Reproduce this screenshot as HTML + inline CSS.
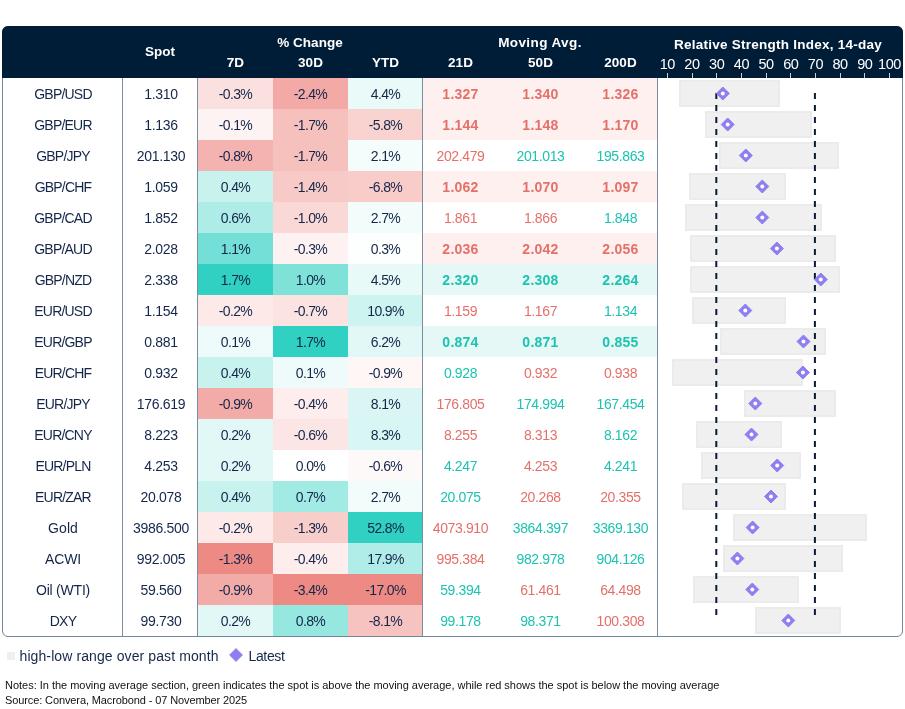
<!DOCTYPE html>
<html lang="en"><head><meta charset="utf-8"><title>FX table</title>
<style>
html,body{margin:0;padding:0;background:#fff;}
body{width:905px;height:709px;position:relative;overflow:hidden;font-family:"Liberation Sans",sans-serif;}
.tbl{position:absolute;left:2px;top:26px;width:901px;height:611px;box-sizing:border-box;border:1px solid #73869b;border-radius:6px;overflow:hidden;background:#fff;}
.hd{position:absolute;left:2px;top:26px;width:901px;height:52px;background:#001d38;border-radius:6px 6px 0 0;z-index:2;}
.h{position:absolute;color:#fff;font-weight:bold;font-size:13.5px;line-height:16px;height:16px;text-align:center;white-space:nowrap;letter-spacing:0.05px;}
.ax{position:absolute;color:#fff;font-size:14.5px;line-height:16px;height:16px;width:40px;text-align:center;letter-spacing:-0.4px;top:30px;}
.tk{position:absolute;top:47px;width:1px;height:5px;background:#c9d0d8;}
.c{position:absolute;height:31px;line-height:33px;overflow:hidden;font-size:14px;text-align:center;color:#14274a;white-space:nowrap;letter-spacing:-0.65px;}
.m{letter-spacing:-0.38px;}
.s{letter-spacing:-0.3px;}
.n{letter-spacing:-0.8px;}
.r{color:#e5706a;} .g{color:#1cc3b1;} .b{font-weight:bold;letter-spacing:0.25px;}
.vl{position:absolute;top:51px;width:1px;height:560px;background:#7c8da0;}
.bar{position:absolute;height:26.5px;background:#f0f0f0;box-sizing:border-box;border:2px solid #ebebeb;}
svg{position:absolute;left:0;top:0;}
.lg{position:absolute;font-size:14px;color:#14274a;line-height:16px;white-space:nowrap;letter-spacing:-0.35px;}
.nt{position:absolute;left:5px;font-size:11px;color:#111;line-height:15px;white-space:nowrap;letter-spacing:-0.3px;}
</style></head><body>
<div class="hd">
<div class="h" style="left:121px;width:74px;top:18px">Spot</div>
<div class="h" style="left:233px;width:150px;top:9px">% Change</div>
<div class="h" style="left:196px;width:75px;top:28.5px">7D</div>
<div class="h" style="left:271px;width:75px;top:28.5px">30D</div>
<div class="h" style="left:346px;width:75px;top:28.5px">YTD</div>
<div class="h" style="left:463px;width:150px;top:9px;letter-spacing:0.4px">Moving Avg.</div>
<div class="h" style="left:418.5px;width:80px;top:28.5px">21D</div>
<div class="h" style="left:498.5px;width:80px;top:28.5px">50D</div>
<div class="h" style="left:578.5px;width:80px;top:28.5px">200D</div>
<div class="h" style="left:656px;width:240px;top:11px;letter-spacing:0.25px">Relative Strength Index, 14-day</div>
<div class="ax" style="left:645.3px">10</div><div class="tk" style="left:664.8px"></div>
<div class="ax" style="left:670.0px">20</div><div class="tk" style="left:689.5px"></div>
<div class="ax" style="left:694.7px">30</div><div class="tk" style="left:714.2px"></div>
<div class="ax" style="left:719.4px">40</div><div class="tk" style="left:738.9px"></div>
<div class="ax" style="left:744.1px">50</div><div class="tk" style="left:763.6px"></div>
<div class="ax" style="left:768.8px">60</div><div class="tk" style="left:788.2px"></div>
<div class="ax" style="left:793.4px">70</div><div class="tk" style="left:812.9px"></div>
<div class="ax" style="left:818.1px">80</div><div class="tk" style="left:837.6px"></div>
<div class="ax" style="left:842.8px">90</div><div class="tk" style="left:862.3px"></div>
<div class="ax" style="left:867.5px">100</div><div class="tk" style="left:887.0px"></div>
</div>
<div class="tbl">
<div class="c n" style="left:0;width:120px;top:51px">GBP/USD</div><div class="c s" style="left:121px;width:74px;top:51px">1.310</div><div class="c" style="left:195px;width:75px;top:51px;background:#fae0de">-0.3%</div><div class="c" style="left:270px;width:75px;top:51px;background:#f3a9a5">-2.4%</div><div class="c" style="left:345px;width:75px;top:51px;background:#e9faf8">4.4%</div><div style="position:absolute;left:420px;width:235px;top:51px;height:31px;background:#fdf0ee"></div><div class="c m r b" style="left:417.5px;width:80px;top:51px">1.327</div><div class="c m r b" style="left:497.5px;width:80px;top:51px">1.340</div><div class="c m r b" style="left:577.5px;width:80px;top:51px">1.326</div><div class="bar" style="left:675.9px;width:101.0px;top:53.25px"></div>
<div class="c n" style="left:0;width:120px;top:82px">GBP/EUR</div><div class="c s" style="left:121px;width:74px;top:82px">1.136</div><div class="c" style="left:195px;width:75px;top:82px;background:#fdf3f3">-0.1%</div><div class="c" style="left:270px;width:75px;top:82px;background:#f6c0bd">-1.7%</div><div class="c" style="left:345px;width:75px;top:82px;background:#f9d3d0">-5.8%</div><div style="position:absolute;left:420px;width:235px;top:82px;height:31px;background:#fdf0ee"></div><div class="c m r b" style="left:417.5px;width:80px;top:82px">1.144</div><div class="c m r b" style="left:497.5px;width:80px;top:82px">1.148</div><div class="c m r b" style="left:577.5px;width:80px;top:82px">1.170</div><div class="bar" style="left:702.2px;width:106.4px;top:84.25px"></div>
<div class="c n" style="left:0;width:120px;top:113px">GBP/JPY</div><div class="c s" style="left:121px;width:74px;top:113px">201.130</div><div class="c" style="left:195px;width:75px;top:113px;background:#f4b3b0">-0.8%</div><div class="c" style="left:270px;width:75px;top:113px;background:#f6c0bd">-1.7%</div><div class="c" style="left:345px;width:75px;top:113px;background:#f4fcfc">2.1%</div><div class="c m r" style="left:417.5px;width:80px;top:113px">202.479</div><div class="c m g" style="left:497.5px;width:80px;top:113px">201.013</div><div class="c m g" style="left:577.5px;width:80px;top:113px">195.863</div><div class="bar" style="left:716.3px;width:119.4px;top:115.25px"></div>
<div class="c n" style="left:0;width:120px;top:144px">GBP/CHF</div><div class="c s" style="left:121px;width:74px;top:144px">1.059</div><div class="c" style="left:195px;width:75px;top:144px;background:#c7f2ee">0.4%</div><div class="c" style="left:270px;width:75px;top:144px;background:#f7cac8">-1.4%</div><div class="c" style="left:345px;width:75px;top:144px;background:#f8ccc9">-6.8%</div><div style="position:absolute;left:420px;width:235px;top:144px;height:31px;background:#fdf0ee"></div><div class="c m r b" style="left:417.5px;width:80px;top:144px">1.062</div><div class="c m r b" style="left:497.5px;width:80px;top:144px">1.070</div><div class="c m r b" style="left:577.5px;width:80px;top:144px">1.097</div><div class="bar" style="left:686.2px;width:96.4px;top:146.25px"></div>
<div class="c n" style="left:0;width:120px;top:175px">GBP/CAD</div><div class="c s" style="left:121px;width:74px;top:175px">1.852</div><div class="c" style="left:195px;width:75px;top:175px;background:#aeede7">0.6%</div><div class="c" style="left:270px;width:75px;top:175px;background:#f9d8d6">-1.0%</div><div class="c" style="left:345px;width:75px;top:175px;background:#f1fcfb">2.7%</div><div class="c m r" style="left:417.5px;width:80px;top:175px">1.861</div><div class="c m r" style="left:497.5px;width:80px;top:175px">1.866</div><div class="c m g" style="left:577.5px;width:80px;top:175px">1.848</div><div class="bar" style="left:682.2px;width:136.4px;top:177.25px"></div>
<div class="c n" style="left:0;width:120px;top:206px">GBP/AUD</div><div class="c s" style="left:121px;width:74px;top:206px">2.028</div><div class="c" style="left:195px;width:75px;top:206px;background:#73dfd6">1.1%</div><div class="c" style="left:270px;width:75px;top:206px;background:#fdf2f1">-0.3%</div><div class="c" style="left:345px;width:75px;top:206px;background:#fdfffe">0.3%</div><div style="position:absolute;left:420px;width:235px;top:206px;height:31px;background:#fdf0ee"></div><div class="c m r b" style="left:417.5px;width:80px;top:206px">2.036</div><div class="c m r b" style="left:497.5px;width:80px;top:206px">2.042</div><div class="c m r b" style="left:577.5px;width:80px;top:206px">2.056</div><div class="bar" style="left:687.0px;width:146.2px;top:208.25px"></div>
<div class="c n" style="left:0;width:120px;top:237px">GBP/NZD</div><div class="c s" style="left:121px;width:74px;top:237px">2.338</div><div class="c" style="left:195px;width:75px;top:237px;background:#30d0c2">1.7%</div><div class="c" style="left:270px;width:75px;top:237px;background:#7fe2d9">1.0%</div><div class="c" style="left:345px;width:75px;top:237px;background:#e8faf8">4.5%</div><div style="position:absolute;left:420px;width:235px;top:237px;height:31px;background:#e6f8f5"></div><div class="c m g b" style="left:417.5px;width:80px;top:237px">2.320</div><div class="c m g b" style="left:497.5px;width:80px;top:237px">2.308</div><div class="c m g b" style="left:577.5px;width:80px;top:237px">2.264</div><div class="bar" style="left:687.0px;width:149.8px;top:239.25px"></div>
<div class="c n" style="left:0;width:120px;top:268px">EUR/USD</div><div class="c s" style="left:121px;width:74px;top:268px">1.154</div><div class="c" style="left:195px;width:75px;top:268px;background:#fce9e8">-0.2%</div><div class="c" style="left:270px;width:75px;top:268px;background:#fbe3e1">-0.7%</div><div class="c" style="left:345px;width:75px;top:268px;background:#cdf4f0">10.9%</div><div class="c m r" style="left:417.5px;width:80px;top:268px">1.159</div><div class="c m r" style="left:497.5px;width:80px;top:268px">1.167</div><div class="c m g" style="left:577.5px;width:80px;top:268px">1.134</div><div class="bar" style="left:688.7px;width:94.5px;top:270.25px"></div>
<div class="c n" style="left:0;width:120px;top:299px">EUR/GBP</div><div class="c s" style="left:121px;width:74px;top:299px">0.881</div><div class="c" style="left:195px;width:75px;top:299px;background:#effbfa">0.1%</div><div class="c" style="left:270px;width:75px;top:299px;background:#30d0c2">1.7%</div><div class="c" style="left:345px;width:75px;top:299px;background:#e1f8f6">6.2%</div><div style="position:absolute;left:420px;width:235px;top:299px;height:31px;background:#e6f8f5"></div><div class="c m g b" style="left:417.5px;width:80px;top:299px">0.874</div><div class="c m g b" style="left:497.5px;width:80px;top:299px">0.871</div><div class="c m g b" style="left:577.5px;width:80px;top:299px">0.855</div><div class="bar" style="left:716.8px;width:106.7px;top:301.25px"></div>
<div class="c n" style="left:0;width:120px;top:330px">EUR/CHF</div><div class="c s" style="left:121px;width:74px;top:330px">0.932</div><div class="c" style="left:195px;width:75px;top:330px;background:#c7f2ee">0.4%</div><div class="c" style="left:270px;width:75px;top:330px;background:#effbfa">0.1%</div><div class="c" style="left:345px;width:75px;top:330px;background:#fef7f6">-0.9%</div><div class="c m g" style="left:417.5px;width:80px;top:330px">0.928</div><div class="c m r" style="left:497.5px;width:80px;top:330px">0.932</div><div class="c m r" style="left:577.5px;width:80px;top:330px">0.938</div><div class="bar" style="left:669.2px;width:131.0px;top:332.25px"></div>
<div class="c n" style="left:0;width:120px;top:361px">EUR/JPY</div><div class="c s" style="left:121px;width:74px;top:361px">176.619</div><div class="c" style="left:195px;width:75px;top:361px;background:#f3aba7">-0.9%</div><div class="c" style="left:270px;width:75px;top:361px;background:#fdeeed">-0.4%</div><div class="c" style="left:345px;width:75px;top:361px;background:#d9f6f4">8.1%</div><div class="c m r" style="left:417.5px;width:80px;top:361px">176.805</div><div class="c m g" style="left:497.5px;width:80px;top:361px">174.994</div><div class="c m g" style="left:577.5px;width:80px;top:361px">167.454</div><div class="bar" style="left:741.2px;width:91.8px;top:363.25px"></div>
<div class="c n" style="left:0;width:120px;top:392px">EUR/CNY</div><div class="c s" style="left:121px;width:74px;top:392px">8.223</div><div class="c" style="left:195px;width:75px;top:392px;background:#e1f8f6">0.2%</div><div class="c" style="left:270px;width:75px;top:392px;background:#fbe6e5">-0.6%</div><div class="c" style="left:345px;width:75px;top:392px;background:#d8f6f3">8.3%</div><div class="c m r" style="left:417.5px;width:80px;top:392px">8.255</div><div class="c m r" style="left:497.5px;width:80px;top:392px">8.313</div><div class="c m g" style="left:577.5px;width:80px;top:392px">8.162</div><div class="bar" style="left:693.0px;width:85.5px;top:394.25px"></div>
<div class="c n" style="left:0;width:120px;top:423px">EUR/PLN</div><div class="c s" style="left:121px;width:74px;top:423px">4.253</div><div class="c" style="left:195px;width:75px;top:423px;background:#e1f8f6">0.2%</div><div class="c" style="left:270px;width:75px;top:423px;background:#ffffff">0.0%</div><div class="c" style="left:345px;width:75px;top:423px;background:#fef9f9">-0.6%</div><div class="c m g" style="left:417.5px;width:80px;top:423px">4.247</div><div class="c m r" style="left:497.5px;width:80px;top:423px">4.253</div><div class="c m g" style="left:577.5px;width:80px;top:423px">4.241</div><div class="bar" style="left:698.1px;width:100.2px;top:425.25px"></div>
<div class="c n" style="left:0;width:120px;top:454px">EUR/ZAR</div><div class="c s" style="left:121px;width:74px;top:454px">20.078</div><div class="c" style="left:195px;width:75px;top:454px;background:#c7f2ee">0.4%</div><div class="c" style="left:270px;width:75px;top:454px;background:#a2eae4">0.7%</div><div class="c" style="left:345px;width:75px;top:454px;background:#f1fcfb">2.7%</div><div class="c m g" style="left:417.5px;width:80px;top:454px">20.075</div><div class="c m r" style="left:497.5px;width:80px;top:454px">20.268</div><div class="c m r" style="left:577.5px;width:80px;top:454px">20.355</div><div class="bar" style="left:678.9px;width:103.7px;top:456.25px"></div>
<div class="c n" style="left:0;width:120px;top:485px;letter-spacing:0.07px">Gold</div><div class="c s" style="left:121px;width:74px;top:485px">3986.500</div><div class="c" style="left:195px;width:75px;top:485px;background:#fce9e8">-0.2%</div><div class="c" style="left:270px;width:75px;top:485px;background:#f8cecb">-1.3%</div><div class="c" style="left:345px;width:75px;top:485px;background:#30d0c2">52.8%</div><div class="c m r" style="left:417.5px;width:80px;top:485px">4073.910</div><div class="c m g" style="left:497.5px;width:80px;top:485px">3864.397</div><div class="c m g" style="left:577.5px;width:80px;top:485px">3369.130</div><div class="bar" style="left:730.1px;width:134.0px;top:487.25px"></div>
<div class="c n" style="left:0;width:120px;top:516px;letter-spacing:-0.18px">ACWI</div><div class="c s" style="left:121px;width:74px;top:516px">992.005</div><div class="c" style="left:195px;width:75px;top:516px;background:#ee8a84">-1.3%</div><div class="c" style="left:270px;width:75px;top:516px;background:#fdeeed">-0.4%</div><div class="c" style="left:345px;width:75px;top:516px;background:#b1ede8">17.9%</div><div class="c m r" style="left:417.5px;width:80px;top:516px">995.384</div><div class="c m g" style="left:497.5px;width:80px;top:516px">982.978</div><div class="c m g" style="left:577.5px;width:80px;top:516px">904.126</div><div class="bar" style="left:719.8px;width:119.9px;top:518.25px"></div>
<div class="c n" style="left:0;width:120px;top:547px;letter-spacing:-0.22px">Oil (WTI)</div><div class="c s" style="left:121px;width:74px;top:547px">59.560</div><div class="c" style="left:195px;width:75px;top:547px;background:#f3aba7">-0.9%</div><div class="c" style="left:270px;width:75px;top:547px;background:#ee8a84">-3.4%</div><div class="c" style="left:345px;width:75px;top:547px;background:#ee8a84">-17.0%</div><div class="c m g" style="left:417.5px;width:80px;top:547px">59.394</div><div class="c m r" style="left:497.5px;width:80px;top:547px">61.461</div><div class="c m r" style="left:577.5px;width:80px;top:547px">64.498</div><div class="bar" style="left:690.0px;width:106.1px;top:549.25px"></div>
<div class="c n" style="left:0;width:120px;top:578px">DXY</div><div class="c s" style="left:121px;width:74px;top:578px">99.730</div><div class="c" style="left:195px;width:75px;top:578px;background:#e1f8f6">0.2%</div><div class="c" style="left:270px;width:75px;top:578px;background:#96e7e0">0.8%</div><div class="c" style="left:345px;width:75px;top:578px;background:#f6c3c0">-8.1%</div><div class="c m g" style="left:417.5px;width:80px;top:578px">99.178</div><div class="c m g" style="left:497.5px;width:80px;top:578px">98.371</div><div class="c m r" style="left:577.5px;width:80px;top:578px">100.308</div><div class="bar" style="left:751.7px;width:85.9px;top:580.25px"></div>
<div class="vl" style="left:119px"></div><div class="vl" style="left:194px"></div><div class="vl" style="left:419px"></div><div class="vl" style="left:654px"></div>
<svg width="899" height="609" viewBox="3 27 899 609"><line x1="716.3" x2="716.3" y1="93" y2="620.5" stroke="#0a1a33" stroke-width="2" stroke-dasharray="6 6"/><line x1="814.9" x2="814.9" y1="93" y2="620.5" stroke="#0a1a33" stroke-width="2" stroke-dasharray="6 6"/><path d="M722.8 87.0L729.3 93.5L722.8 100.0L716.3 93.5Z" fill="#8e7ff1" stroke="#8e7ff1" stroke-width="1" stroke-linejoin="round"/><circle cx="722.8" cy="93.5" r="2" fill="#fff"/><path d="M727.7 118.0L734.2 124.5L727.7 131.0L721.2 124.5Z" fill="#8e7ff1" stroke="#8e7ff1" stroke-width="1" stroke-linejoin="round"/><circle cx="727.7" cy="124.5" r="2" fill="#fff"/><path d="M745.8 149.0L752.3 155.5L745.8 162.0L739.3 155.5Z" fill="#8e7ff1" stroke="#8e7ff1" stroke-width="1" stroke-linejoin="round"/><circle cx="745.8" cy="155.5" r="2" fill="#fff"/><path d="M762.3 180.0L768.8 186.5L762.3 193.0L755.8 186.5Z" fill="#8e7ff1" stroke="#8e7ff1" stroke-width="1" stroke-linejoin="round"/><circle cx="762.3" cy="186.5" r="2" fill="#fff"/><path d="M762.3 211.0L768.8 217.5L762.3 224.0L755.8 217.5Z" fill="#8e7ff1" stroke="#8e7ff1" stroke-width="1" stroke-linejoin="round"/><circle cx="762.3" cy="217.5" r="2" fill="#fff"/><path d="M776.9 242.0L783.4 248.5L776.9 255.0L770.4 248.5Z" fill="#8e7ff1" stroke="#8e7ff1" stroke-width="1" stroke-linejoin="round"/><circle cx="776.9" cy="248.5" r="2" fill="#fff"/><path d="M820.8 273.0L827.3 279.5L820.8 286.0L814.3 279.5Z" fill="#8e7ff1" stroke="#8e7ff1" stroke-width="1" stroke-linejoin="round"/><circle cx="820.8" cy="279.5" r="2" fill="#fff"/><path d="M745.3 304.0L751.8 310.5L745.3 317.0L738.8 310.5Z" fill="#8e7ff1" stroke="#8e7ff1" stroke-width="1" stroke-linejoin="round"/><circle cx="745.3" cy="310.5" r="2" fill="#fff"/><path d="M803.5 335.0L810.0 341.5L803.5 348.0L797.0 341.5Z" fill="#8e7ff1" stroke="#8e7ff1" stroke-width="1" stroke-linejoin="round"/><circle cx="803.5" cy="341.5" r="2" fill="#fff"/><path d="M802.9 366.0L809.4 372.5L802.9 379.0L796.4 372.5Z" fill="#8e7ff1" stroke="#8e7ff1" stroke-width="1" stroke-linejoin="round"/><circle cx="802.9" cy="372.5" r="2" fill="#fff"/><path d="M755.3 397.0L761.8 403.5L755.3 410.0L748.8 403.5Z" fill="#8e7ff1" stroke="#8e7ff1" stroke-width="1" stroke-linejoin="round"/><circle cx="755.3" cy="403.5" r="2" fill="#fff"/><path d="M751.5 428.0L758.0 434.5L751.5 441.0L745.0 434.5Z" fill="#8e7ff1" stroke="#8e7ff1" stroke-width="1" stroke-linejoin="round"/><circle cx="751.5" cy="434.5" r="2" fill="#fff"/><path d="M777.2 459.0L783.7 465.5L777.2 472.0L770.7 465.5Z" fill="#8e7ff1" stroke="#8e7ff1" stroke-width="1" stroke-linejoin="round"/><circle cx="777.2" cy="465.5" r="2" fill="#fff"/><path d="M771.0 490.0L777.5 496.5L771.0 503.0L764.5 496.5Z" fill="#8e7ff1" stroke="#8e7ff1" stroke-width="1" stroke-linejoin="round"/><circle cx="771.0" cy="496.5" r="2" fill="#fff"/><path d="M752.6 521.0L759.1 527.5L752.6 534.0L746.1 527.5Z" fill="#8e7ff1" stroke="#8e7ff1" stroke-width="1" stroke-linejoin="round"/><circle cx="752.6" cy="527.5" r="2" fill="#fff"/><path d="M737.4 552.0L743.9 558.5L737.4 565.0L730.9 558.5Z" fill="#8e7ff1" stroke="#8e7ff1" stroke-width="1" stroke-linejoin="round"/><circle cx="737.4" cy="558.5" r="2" fill="#fff"/><path d="M752.3 583.0L758.8 589.5L752.3 596.0L745.8 589.5Z" fill="#8e7ff1" stroke="#8e7ff1" stroke-width="1" stroke-linejoin="round"/><circle cx="752.3" cy="589.5" r="2" fill="#fff"/><path d="M788.3 614.0L794.8 620.5L788.3 627.0L781.8 620.5Z" fill="#8e7ff1" stroke="#8e7ff1" stroke-width="1" stroke-linejoin="round"/><circle cx="788.3" cy="620.5" r="2" fill="#fff"/></svg>
</div>
<div style="position:absolute;left:7px;top:651.5px;width:8px;height:8.5px;background:#efefef"></div><div class="lg" style="left:19.5px;top:648px;letter-spacing:0.1px">high-low range over past month</div><svg width="20" height="20" style="left:226px;top:645px" viewBox="0 0 20 20"><path d="M10 3.6L16.4 10L10 16.4L3.6 10Z" fill="#8e7ff1" stroke="#8e7ff1" stroke-width="1" stroke-linejoin="round"/></svg><div class="lg" style="left:248.5px;top:648px">Latest</div>
<div class="nt" style="top:678px;letter-spacing:-0.02px">Notes: In the moving average section, green indicates the spot is above the moving average, while red shows the spot is below the moving average</div>
<div class="nt" style="top:693px;letter-spacing:-0.11px">Source: Convera, Macrobond - 07 November 2025</div>
</body></html>
